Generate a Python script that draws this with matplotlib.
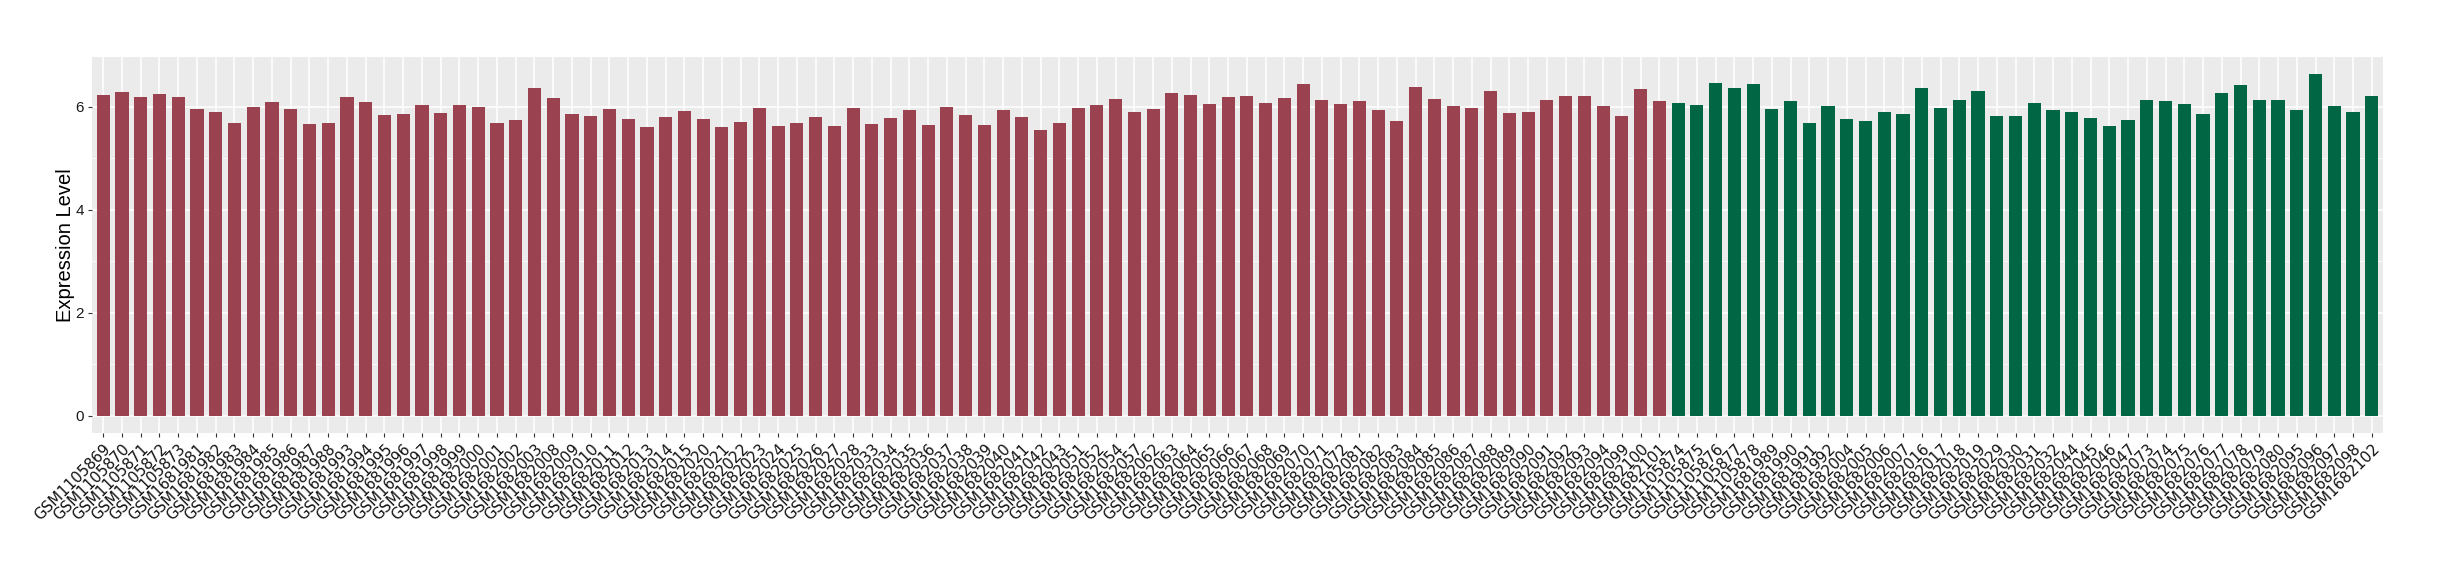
#!/usr/bin/env python3
import numpy as np
import matplotlib

matplotlib.use("Agg")
import matplotlib.pyplot as plt  # noqa: E402
import matplotlib.transforms as mtransforms  # noqa: E402

red_samples = [
    "GSM1105869", "GSM1105870", "GSM1105871", "GSM1105872", "GSM1105873",
    "GSM1681981", "GSM1681982", "GSM1681983", "GSM1681984", "GSM1681985",
    "GSM1681986", "GSM1681987", "GSM1681988", "GSM1681993", "GSM1681994",
    "GSM1681995", "GSM1681996", "GSM1681997", "GSM1681998", "GSM1681999",
    "GSM1682000", "GSM1682001", "GSM1682002", "GSM1682003", "GSM1682008",
    "GSM1682009", "GSM1682010", "GSM1682011", "GSM1682012", "GSM1682013",
    "GSM1682014", "GSM1682015", "GSM1682020", "GSM1682021", "GSM1682022",
    "GSM1682023", "GSM1682024", "GSM1682025", "GSM1682026", "GSM1682027",
    "GSM1682028", "GSM1682033", "GSM1682034", "GSM1682035", "GSM1682036",
    "GSM1682037", "GSM1682038", "GSM1682039", "GSM1682040", "GSM1682041",
    "GSM1682042", "GSM1682043", "GSM1682051", "GSM1682052", "GSM1682054",
    "GSM1682057", "GSM1682062", "GSM1682063", "GSM1682064", "GSM1682065",
    "GSM1682066", "GSM1682067", "GSM1682068", "GSM1682069", "GSM1682070",
    "GSM1682071", "GSM1682072", "GSM1682081", "GSM1682082", "GSM1682083",
    "GSM1682084", "GSM1682085", "GSM1682086", "GSM1682087", "GSM1682088",
    "GSM1682089", "GSM1682090", "GSM1682091", "GSM1682092", "GSM1682093",
    "GSM1682094", "GSM1682099", "GSM1682100", "GSM1682101",
]

red_values = [
    6.23, 6.28, 6.19, 6.25, 6.19, 5.95, 5.90, 5.68, 5.99, 6.09,
    5.95, 5.67, 5.68, 6.19, 6.09, 5.84, 5.86, 6.03, 5.88, 6.03,
    5.99, 5.68, 5.74, 6.36, 6.17, 5.86, 5.82, 5.95, 5.76, 5.61,
    5.80, 5.92, 5.76, 5.61, 5.70, 5.97, 5.63, 5.68, 5.80, 5.63,
    5.97, 5.67, 5.78, 5.94, 5.65, 5.99, 5.84, 5.65, 5.94, 5.80,
    5.55, 5.68, 5.97, 6.03, 6.15, 5.90, 5.95, 6.27, 6.23, 6.05,
    6.19, 6.21, 6.07, 6.17, 6.44, 6.13, 6.05, 6.11, 5.94, 5.72,
    6.38, 6.15, 6.01, 5.97, 6.30, 5.88, 5.90, 6.13, 6.21, 6.21,
    6.01, 5.82, 6.34, 6.11,
]

green_samples = [
    "GSM1105874", "GSM1105875", "GSM1105876", "GSM1105877", "GSM1105878",
    "GSM1681989", "GSM1681990", "GSM1681991", "GSM1681992", "GSM1682004",
    "GSM1682005", "GSM1682006", "GSM1682007", "GSM1682016", "GSM1682017",
    "GSM1682018", "GSM1682019", "GSM1682029", "GSM1682030", "GSM1682031",
    "GSM1682032", "GSM1682044", "GSM1682045", "GSM1682046", "GSM1682047",
    "GSM1682073", "GSM1682074", "GSM1682075", "GSM1682076", "GSM1682077",
    "GSM1682078", "GSM1682079", "GSM1682080", "GSM1682095", "GSM1682096",
    "GSM1682097", "GSM1682098", "GSM1682102",
]

green_values = [
    6.07, 6.03, 6.46, 6.36, 6.44, 5.95, 6.11, 5.68, 6.01, 5.76,
    5.72, 5.90, 5.86, 6.36, 5.97, 6.13, 6.30, 5.82, 5.82, 6.07,
    5.94, 5.90, 5.78, 5.63, 5.74, 6.13, 6.11, 6.05, 5.86, 6.27,
    6.42, 6.13, 6.13, 5.94, 6.63, 6.01, 5.90, 6.21,
]

RED = "#9A4250"
GREEN = "#006644"


def main():
    samples = red_samples + green_samples
    values = np.array(red_values + green_values)
    colors = [RED] * len(red_samples) + [GREEN] * len(green_samples)
    x = np.arange(len(samples))

    fig = plt.figure(figsize=(24.4, 5.8), dpi=100)
    ax = fig.add_axes([92 / 2440, 1 - 433 / 580, (2383 - 92) / 2440, (433 - 57) / 580])
    ax.set_facecolor("#EBEBEB")

    ax.bar(x, values, width=0.7, color=colors, zorder=3)

    # ggplot-like expansion
    top = values.max()
    ax.set_ylim(-0.05 * top, 1.05 * top)
    ax.set_xlim(-0.6, len(samples) - 1 + 0.6)

    ax.set_yticks([0, 2, 4, 6])
    ax.set_yticks([1, 3, 5], minor=True)
    ax.set_xticks(x)
    ax.set_xticklabels(
        samples,
        rotation=45,
        ha="right",
        va="top",
        rotation_mode="anchor",
        fontsize=10.8,
        family="DejaVu Sans",
        color="#111111",
    )
    # nudge labels a little to the right, like ggplot's hjust/vjust
    shift = mtransforms.ScaledTranslation(5 / 72, 0, fig.dpi_scale_trans)
    for lab in ax.get_xticklabels():
        lab.set_transform(lab.get_transform() + shift)

    for lab in ax.get_yticklabels():
        lab.set_family("Liberation Sans")
        lab.set_fontsize(11)
        lab.set_color("#1a1a1a")

    ax.grid(which="major", color="white", linewidth=1.1, zorder=0)
    ax.grid(which="minor", axis="y", color="white", linewidth=0.55, zorder=0)
    ax.set_axisbelow(True)
    for s in ax.spines.values():
        s.set_visible(False)
    ax.tick_params(which="major", length=3, width=0.8, color="#333333", pad=3)
    ax.tick_params(which="minor", length=0)

    ax.set_ylabel("Expression Level", fontsize=14.5, family="Liberation Sans", labelpad=0)

    fig.savefig("out.png", dpi=100)


if __name__ == "__main__":
    main()
